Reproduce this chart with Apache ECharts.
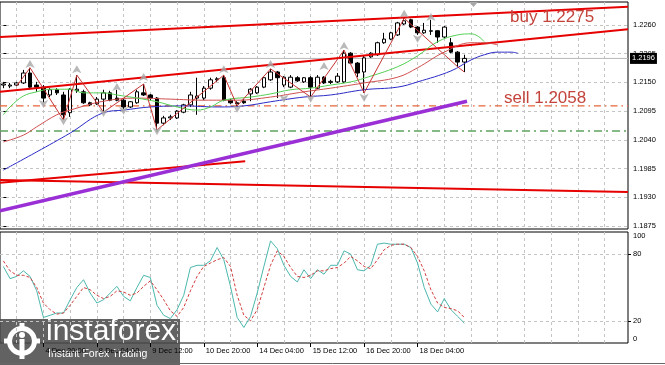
<!DOCTYPE html>
<html><head><meta charset="utf-8">
<script src="https://cdn.jsdelivr.net/npm/echarts@6/dist/echarts.min.js"></script>
<style>html,body{margin:0;padding:0;background:#fff}#c{width:665px;height:365px}</style>
</head><body><div id="c"></div><script>
// ---- data (EURUSD H4) ----
const opens  = [1.2145,1.2143,1.2145,1.2149,1.2168,1.2145,1.2141,1.2126,1.2136,1.2126,1.2092,1.2134,1.2132,1.2111,1.2109,1.2118,1.2130,1.2120,1.2116,1.2103,1.2111,1.2130,1.2126,1.2120,1.2072,1.2082,1.2082,1.2093,1.2107,1.2120,1.2120,1.2139,1.2155,1.2159,1.2116,1.2111,1.2114,1.2128,1.2130,1.2141,1.2155,1.2170,1.2145,1.2141,1.2159,1.2151,1.2159,1.2139,1.2160,1.2150,1.2151,1.2151,1.2206,1.2187,1.2170,1.2199,1.2203,1.2226,1.2233,1.2241,1.2262,1.2270,1.2256,1.2245,1.2248,1.2249,1.2237,1.2226,1.2208,1.2189];
const closes = [1.2147,1.2145,1.2149,1.2168,1.2141,1.2141,1.2120,1.2136,1.2130,1.2088,1.2137,1.2137,1.2111,1.2107,1.2118,1.2130,1.2116,1.2116,1.2103,1.2113,1.2132,1.2126,1.2120,1.2072,1.2082,1.2084,1.2095,1.2107,1.2126,1.2124,1.2139,1.2155,1.2157,1.2116,1.2111,1.2109,1.2111,1.2137,1.2141,1.2159,1.2170,1.2159,1.2160,1.2160,1.2153,1.2159,1.2141,1.2160,1.2149,1.2152,1.2162,1.2206,1.2187,1.2168,1.2197,1.2206,1.2226,1.2233,1.2245,1.2264,1.2268,1.2256,1.2245,1.2250,1.2249,1.2237,1.2256,1.2208,1.2189,1.2196];
const lows   = [1.2139,1.2139,1.2143,1.2147,1.2136,1.2132,1.2111,1.2122,1.2126,1.2078,1.2084,1.2130,1.2109,1.2105,1.2107,1.2093,1.2114,1.2114,1.2099,1.2101,1.2109,1.2124,1.2116,1.2059,1.2068,1.2078,1.2080,1.2091,1.2103,1.2088,1.2116,1.2136,1.2151,1.2114,1.2109,1.2105,1.2109,1.2114,1.2128,1.2139,1.2153,1.2120,1.2141,1.2139,1.2151,1.2149,1.2122,1.2137,1.2147,1.2147,1.2149,1.2149,1.2185,1.2160,1.2130,1.2197,1.2201,1.2224,1.2231,1.2239,1.2260,1.2254,1.2241,1.2243,1.2241,1.2226,1.2235,1.2206,1.2180,1.2170];
const highs  = [1.2151,1.2149,1.2151,1.2174,1.2178,1.2151,1.2145,1.2139,1.2139,1.2132,1.2139,1.2164,1.2136,1.2113,1.2122,1.2136,1.2134,1.2136,1.2118,1.2114,1.2136,1.2147,1.2128,1.2122,1.2086,1.2088,1.2097,1.2109,1.2132,1.2159,1.2143,1.2159,1.2160,1.2164,1.2118,1.2114,1.2118,1.2139,1.2143,1.2160,1.2176,1.2172,1.2162,1.2164,1.2162,1.2160,1.2162,1.2164,1.2162,1.2155,1.2168,1.2212,1.2208,1.2189,1.2201,1.2208,1.2228,1.2245,1.2247,1.2266,1.2273,1.2272,1.2258,1.2264,1.2270,1.2250,1.2258,1.2235,1.2210,1.2203];

// Alligator (jaw / teeth / lips), sampled [bar, price]
const jaw   = [[0,1.1982],[5,1.2017],[10,1.2053],[15,1.2092],[18,1.2097],[22,1.2103],[27,1.2105],[32,1.2103],[36,1.2105],[40,1.2113],[45,1.2122],[49,1.2126],[54,1.2136],[59,1.2141],[62,1.2151],[67,1.2172],[70,1.2193],[72,1.2203],[74,1.2208],[76,1.2208],[77,1.2206]];
const teeth = [[0,1.2036],[3,1.2049],[5,1.2065],[8,1.2088],[10,1.2097],[15,1.2114],[20,1.2120],[25,1.2118],[30,1.2116],[35,1.2116],[40,1.2122],[45,1.2132],[49,1.2139],[54,1.2149],[59,1.2160],[62,1.2178],[66,1.2208],[70,1.2226],[72,1.2226],[74,1.2222]];
const lips  = [[0,1.2088],[1,1.2103],[3,1.2124],[5,1.2132],[7,1.2137],[10,1.2137],[12,1.2130],[15,1.2130],[17,1.2126],[20,1.2120],[23,1.2113],[26,1.2103],[29,1.2097],[31,1.2103],[33,1.2116],[37,1.2122],[40,1.2128],[43,1.2136],[46,1.2139],[49,1.2145],[52,1.2151],[54,1.2158],[59,1.2180],[62,1.2201],[65,1.2228],[68,1.2241],[70,1.2243],[71,1.2239],[72,1.2228]];
const zigzag = [[2,1.2143],[4,1.2178],[9,1.2078],[11,1.2164],[15,1.2093],[21,1.2147],[23,1.2059],[33,1.2164],[35,1.2105],[40,1.2176],[46,1.2122],[51,1.2212],[54,1.2130],[60,1.2273],[68,1.2180],[69,1.2170]];
const fractalsUp   = [[4,1.2193],[11,1.2183],[17,1.2149],[21,1.2168],[33,1.2183],[40,1.2193],[48,1.2189],[51,1.2228],[60,1.2289],[64,1.2283]];
const fractalsDown = [[6,1.2101],[9,1.2068],[15,1.2084],[18,1.2088],[23,1.2049],[35,1.2092],[42,1.2111],[46,1.2111],[54,1.2113],[62,1.2226]];

// drawn objects
const trendUpper = [[-0.5,1.2237],[93.5,1.2295]];
const trendMid   = [[-0.5,1.2132],[93.5,1.2252]];
const trendLowA  = [[-0.5,1.1958],[36.2,1.1999]];
const trendLowB  = [[-0.5,1.1963],[93.5,1.1940]];
const purpleLine = [[-0.5,1.1904],[69.4,1.2114]];
const sellLevel  = 1.2105;
const greenLevel = 1.2057;
const bidPrice   = 1.2196;
const buyText  = 'buy 1.2275';
const sellText = 'sell 1.2058';

// Stochastic
const stochK = [69,58,60,65,60,47,23,25,27,27,39,50,57,45,36,39,45,51,42,38,50,61,59,34,25,22,30,43,68,70,70,74,86,75,51,23,14,24,45,69,92,85,70,60,55,66,58,66,62,70,70,83,80,66,65,70,89,90,89,89,89,86,72,50,35,28,40,30,24,18];
const stochD = [74,65,61,61,59,50,36,30,26,27,34,42,50,48,43,40,42,47,46,43,45,51,56,48,39,29,24,32,47,60,69,72,75,77,69,43,25,20,30,50,70,83,78,68,60,59,61,65,65,67,68,72,78,74,69,67,75,84,88,89,89,86,78,65,48,36,32,31,29,23];

// axes
const priceTicks = [1.1875,1.1930,1.1985,1.2040,1.2095,1.2150,1.2205,1.2260];
const stochTicks = [0,20,80,100];
const stochLevels = [20,80];
const dateTicks = ['4 Dec 20:00','8 Dec 04:00','9 Dec 12:00','10 Dec 20:00','14 Dec 04:00','15 Dec 12:00','16 Dec 20:00','18 Dec 04:00'];
const dateTickBars = [6,14,22,30,38,46,54,62];
const totalSlots = 94;

// ---- build ----
const cats = [];
for (let i = 0; i < totalSlots; i++) cats.push(String(i));
const labelMap = {};
dateTickBars.forEach((b, k) => labelMap[b] = dateTicks[k]);
const candleData = opens.map((o, i) => [o, closes[i], lows[i], highs[i]]);
const xFrom = -0.5, xTo = totalSlots - 0.5;
const hLine = (level) => [[xFrom, level], [xTo, level]];

const FONT = '"Liberation Sans", Arial, sans-serif';
const gridLine = {color: '#c4c4c4', type: [3, 3], width: 1};
const vSplit = (i) => (i - 2) % 4 === 0;

const chart = echarts.init(document.getElementById('c'), null, {renderer: 'canvas'});
const lineS = (data, color, width, extra) => Object.assign({
  type: 'line', xAxisIndex: 2, yAxisIndex: 0, data, symbol: 'none', silent: true,
  lineStyle: Object.assign({color, width}, (extra && extra.ls) || {}), z: 3
}, extra || {});

chart.setOption({
  animation: false,
  backgroundColor: '#fff',
  textStyle: {fontFamily: FONT},
  grid: [
    {left: 0, right: 37, top: 2, height: 227, show: true, borderColor: '#000', borderWidth: 1},
    {left: 0, right: 37, top: 232, height: 111, show: true, borderColor: '#000', borderWidth: 1}
  ],
  xAxis: [
    {type: 'category', gridIndex: 0, data: cats, boundaryGap: true,
     axisLine: {show: false}, axisTick: {show: false}, axisLabel: {show: false},
     splitLine: {show: true, interval: vSplit, alignWithLabel: true, lineStyle: gridLine}},
    {type: 'category', gridIndex: 1, data: cats, boundaryGap: true,
     axisLine: {show: false},
     axisTick: {show: true, alignWithLabel: true, interval: (i) => labelMap[i] !== undefined, length: 4, lineStyle: {color: '#000'}},
     axisLabel: {show: true, interval: (i) => labelMap[i] !== undefined, formatter: (v, i) => labelMap[i] || '',
                 align: 'left', fontSize: 7.5, color: '#000', margin: 4, padding: [0, 0, 0, 2], fontFamily: FONT},
     splitLine: {show: true, interval: vSplit, alignWithLabel: true, lineStyle: gridLine}},
    {type: 'value', gridIndex: 0, min: xFrom, max: xTo, show: false}
  ],
  yAxis: [
    {type: 'value', gridIndex: 0, position: 'right', min: 1.186925, max: 1.230405,
     axisLine: {show: false},
     axisTick: {show: true, customValues: priceTicks, length: 3, lineStyle: {color: '#000'}},
     axisLabel: {customValues: priceTicks, formatter: (v) => v.toFixed(4), fontSize: 7.5, color: '#000', margin: 5,
                 fontFamily: FONT, hideOverlap: false},
     splitLine: {show: true, lineStyle: gridLine}},
    {type: 'value', gridIndex: 1, position: 'right', min: 0, max: 100,
     axisLine: {show: false},
     axisTick: {show: true, customValues: stochLevels, length: 3, lineStyle: {color: '#000'}},
     axisLabel: {customValues: stochTicks, fontSize: 7.5, color: '#000', margin: 5, fontFamily: FONT,
                 verticalAlignMaxLabel: 'top', verticalAlignMinLabel: 'bottom'},
     splitLine: {show: true, lineStyle: gridLine}}
  ],
  series: [
    lineS(hLine(sellLevel), '#e5663a', 1.3, {ls: {type: [7, 4, 1.5, 4]}, z: 2}),
    lineS(hLine(greenLevel), '#5fa35f', 1.3, {ls: {type: [8, 4, 2, 4]}, z: 2}),
    lineS(hLine(bidPrice), '#b8b8b8', 1, {z: 2, endLabel: {show: true, formatter: bidPrice.toFixed(4), color: '#fff',
      backgroundColor: '#000', padding: [2, 2, 1, 2], fontSize: 7.5, fontFamily: FONT, distance: 2}}),
    {type: 'candlestick', xAxisIndex: 0, yAxisIndex: 0, data: candleData, barWidth: 4, silent: true, z: 2,
     itemStyle: {color: '#ffffff', color0: '#000000', borderColor: '#000000', borderColor0: '#000000', borderWidth: 1}},
    lineS(trendUpper, '#e60000', 2),
    lineS(trendMid, '#e60000', 2),
    lineS(trendLowA, '#e60000', 2),
    lineS(trendLowB, '#e60000', 2),
    lineS(purpleLine, '#9a2fd6', 3.5),
    lineS(jaw, '#2b2bc8', 1, {smooth: 0.4}),
    lineS(teeth, '#d05050', 1, {smooth: 0.4}),
    lineS(lips, '#55d055', 1, {smooth: 0.4}),
    lineS(zigzag, '#c83232', 1, {z: 4}),
    {type: 'scatter', xAxisIndex: 2, yAxisIndex: 0, data: fractalsUp, symbol: 'arrow', symbolSize: [7, 8],
     itemStyle: {color: '#a8a8a8'}, silent: true, z: 4},
    {type: 'scatter', xAxisIndex: 2, yAxisIndex: 0, data: fractalsDown, symbol: 'arrow', symbolSize: [7, 8], symbolRotate: 180,
     itemStyle: {color: '#a8a8a8'}, silent: true, z: 4},
    {type: 'line', xAxisIndex: 1, yAxisIndex: 1, data: stochK, symbol: 'none', silent: true,
     lineStyle: {color: '#4cb8ae', width: 1}},
    {type: 'line', xAxisIndex: 1, yAxisIndex: 1, data: stochD, symbol: 'none', silent: true,
     lineStyle: {color: '#d23c3c', width: 1, type: [3, 2]}}
  ],
  graphic: [
    {type: 'text', left: 510, top: 9, silent: true, z: 10,
     style: {text: buyText, fill: '#c4443c', font: 'normal 17px ' + FONT}},
    {type: 'text', left: 504, top: 90, silent: true, z: 10,
     style: {text: sellText, fill: '#c4443c', font: 'normal 17px ' + FONT}},
    {type: 'polygon', silent: true, z: 10, shape: {points: [[469, 2], [478, 2], [473.5, 7]]}, style: {fill: '#a8a8a8'}},
    {type: 'line', silent: true, z: 10, shape: {x1: 0, y1: 363.5, x2: 665, y2: 363.5}, style: {stroke: '#666', lineWidth: 1}},
    {type: 'group', silent: true, z: 20, children: [
      {type: 'rect', shape: {x: 0, y: 319, width: 180, height: 46}, style: {fill: 'rgba(72,72,72,0.86)'}},
      {type: 'ring', shape: {cx: 22, cy: 341, r: 15, r0: 10}, style: {fill: '#fff'}},
      {type: 'rect', shape: {x: 19.5, y: 323, width: 5, height: 4}, style: {fill: '#fff'}},
      {type: 'rect', shape: {x: 19.5, y: 355, width: 5, height: 4}, style: {fill: '#fff'}},
      {type: 'rect', shape: {x: 4, y: 338.5, width: 4, height: 5}, style: {fill: '#fff'}},
      {type: 'rect', shape: {x: 36, y: 338.5, width: 4, height: 5}, style: {fill: '#fff'}},
      {type: 'circle', shape: {cx: 22, cy: 335, r: 3}, style: {fill: '#fff'}},
      {type: 'rect', shape: {x: 19.5, y: 339, width: 5, height: 12}, style: {fill: '#fff'}},
      {type: 'text', x: 46, y: 317, style: {text: 'instaforex', fill: '#fff', font: 'normal 30px ' + FONT}},
      {type: 'text', x: 48, y: 349, style: {text: 'Instant Forex Trading', fill: '#fff', font: 'normal 10.5px ' + FONT}}
    ]}
  ]
});
</script></body></html>
